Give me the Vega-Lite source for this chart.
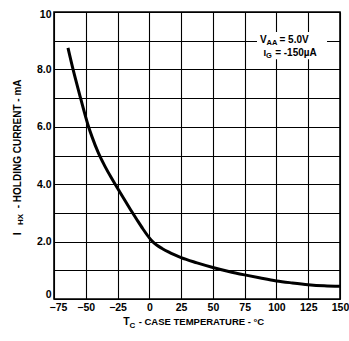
{
  "$schema": "https://vega.github.io/schema/vega-lite/v6.json",
  "width": 286,
  "height": 287,
  "autosize": "none",
  "padding": {"left": 54, "top": 12, "right": 9, "bottom": 42},
  "background": "white",
  "config": {
    "font": "Liberation Sans",
    "view": {"stroke": "black", "strokeWidth": 1.6},
    "axis": {
      "domain": false, "grid": true, "gridColor": "black", "gridOpacity": 1, "gridWidth": 1.1,
      "ticks": false, "labelFont": "Liberation Sans", "labelFontWeight": "bold",
      "labelFontSize": 10.5, "labelColor": "black", "title": null, "labelOverlap": false, "tickCount": 30
    },
    "text": {"font": "Liberation Sans", "fontWeight": "bold", "color": "black"}
  },
  "data": {"values": [{}]},
  "layer": [
    {
      "data": {"values": [
        {"T": -64, "I": 8.75}, {"T": -60, "I": 8.0}, {"T": -55, "I": 7.15}, {"T": -50, "I": 6.33},
        {"T": -48, "I": 6.03}, {"T": -45, "I": 5.64}, {"T": -40, "I": 5.08}, {"T": -35, "I": 4.63},
        {"T": -30, "I": 4.23}, {"T": -25, "I": 3.86}, {"T": -20, "I": 3.49}, {"T": -15, "I": 3.13},
        {"T": -10, "I": 2.78}, {"T": -5, "I": 2.44}, {"T": 0, "I": 2.13}, {"T": 3, "I": 1.98},
        {"T": 6, "I": 1.87}, {"T": 10, "I": 1.76}, {"T": 15, "I": 1.64}, {"T": 20, "I": 1.535},
        {"T": 25, "I": 1.44}, {"T": 37.5, "I": 1.26}, {"T": 50, "I": 1.1}, {"T": 62.5, "I": 0.96},
        {"T": 75, "I": 0.84}, {"T": 87.5, "I": 0.73}, {"T": 100, "I": 0.63}, {"T": 112.5, "I": 0.56},
        {"T": 125, "I": 0.5}, {"T": 137.5, "I": 0.46}, {"T": 150, "I": 0.44}
      ]},
      "mark": {"type": "line", "color": "black", "strokeWidth": 3, "interpolate": "monotone", "clip": true},
      "encoding": {
        "x": {"field": "T", "type": "quantitative",
              "scale": {"domain": [-75, 150], "nice": false, "zero": false},
              "axis": {"values": [-75, -50, -25, 0, 25, 50, 75, 100, 125, 150], "tickCount": 30, "labelPadding": 3, "labelFlush": false,
                       "labelOffset": {"condition": {"test": "datum.value == -75", "value": 4}, "value": 0}}},
        "y": {"field": "I", "type": "quantitative",
              "scale": {"domain": [0, 10], "nice": false},
              "axis": {"values": [0, 1, 2, 3, 4, 5, 6, 7, 8, 9, 10], "tickCount": 30, "labelPadding": 3, "labelFlush": false,
                       "labelExpr": "datum.value == 0 ? '0' : (datum.value == 10 ? '10' : (datum.value % 2 == 0 ? format(datum.value, '.1f') : ''))",
                       "labelOffset": {"condition": [{"test": "datum.value == 0", "value": -5}, {"test": "datum.value == 10", "value": 2}], "value": 0}}}
      }
    },
    {
      "mark": {"type": "rect", "color": "white"},
      "encoding": {"x": {"datum": 84.7}, "x2": {"datum": 139.8}, "y": {"datum": 9.3}, "y2": {"datum": 8.35}}
    },
    {"mark": {"type": "text", "text": "V", "align": "left", "baseline": "alphabetic", "fontSize": 10},
     "encoding": {"x": {"datum": 87.0}, "y": {"datum": 8.92}}},
    {"mark": {"type": "text", "text": "AA", "align": "left", "baseline": "alphabetic", "fontSize": 7.5},
     "encoding": {"x": {"datum": 92.2}, "y": {"datum": 8.85}}},
    {"mark": {"type": "text", "text": "= 5.0V", "align": "left", "baseline": "alphabetic", "fontSize": 10},
     "encoding": {"x": {"datum": 102.4}, "y": {"datum": 8.92}}},
    {"mark": {"type": "text", "text": "I", "align": "left", "baseline": "alphabetic", "fontSize": 9.5},
     "encoding": {"x": {"datum": 89.8}, "y": {"datum": 8.48}}},
    {"mark": {"type": "text", "text": "G", "align": "left", "baseline": "alphabetic", "fontSize": 7.5},
     "encoding": {"x": {"datum": 91.8}, "y": {"datum": 8.38}}},
    {"mark": {"type": "text", "text": "= -150µA", "align": "left", "baseline": "alphabetic", "fontSize": 10},
     "encoding": {"x": {"datum": 99.0}, "y": {"datum": 8.48}}},
    {"mark": {"type": "text", "text": "T", "align": "left", "baseline": "alphabetic", "fontSize": 10.5},
     "encoding": {"x": {"datum": -20.5}, "y": {"datum": -0.9}}},
    {"mark": {"type": "text", "text": "C", "align": "left", "baseline": "alphabetic", "fontSize": 8},
     "encoding": {"x": {"datum": -15.6}, "y": {"datum": -0.995}}},
    {"mark": {"type": "text", "text": "- CASE TEMPERATURE - °C", "align": "left", "baseline": "alphabetic", "fontSize": 9.5},
     "encoding": {"x": {"datum": -8.4}, "y": {"datum": -0.9}}},
    {"mark": {"type": "text", "text": "I", "align": "left", "baseline": "alphabetic", "fontSize": 10.5, "angle": 270},
     "encoding": {"x": {"datum": -101.35}, "y": {"datum": 2.22}}},
    {"mark": {"type": "text", "text": "HX", "align": "left", "baseline": "alphabetic", "fontSize": 8, "angle": 270},
     "encoding": {"x": {"datum": -99.4}, "y": {"datum": 2.58}}},
    {"mark": {"type": "text", "text": "- HOLDING CURRENT - mA", "align": "left", "baseline": "alphabetic", "fontSize": 10, "angle": 270},
     "encoding": {"x": {"datum": -101.35}, "y": {"datum": 3.16}}}
  ]
}
